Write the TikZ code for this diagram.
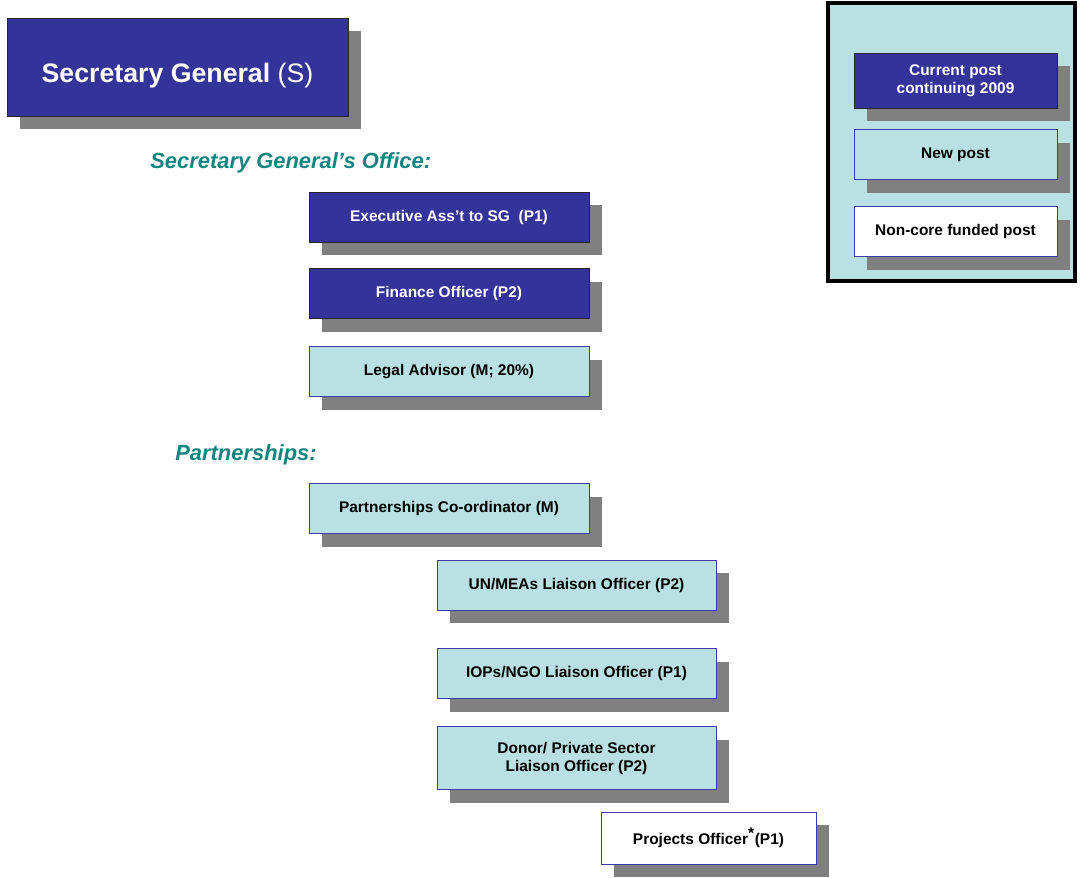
\documentclass[tikz,border=0pt]{standalone}
\usepackage{fontspec}
\setmainfont{Liberation Sans}
\usepackage{xcolor}
\usetikzlibrary{positioning,shadows}
\definecolor{postblue}{RGB}{51,51,153}
\definecolor{postcyan}{RGB}{185,224,227}
\definecolor{postedge}{RGB}{60,60,170}
\definecolor{shadowgray}{RGB}{128,128,128}
\definecolor{headteal}{RGB}{18,133,127}
\tikzset{
    postbox/.style={
        rectangle,
        align=center,
        font=\fontsize{11}{13}\selectfont\bfseries,
        inner sep=2pt,
        minimum width=7cm,
        minimum height=1.25cm,
        line width=0.6pt,
        general shadow={fill=shadowgray, shadow xshift=0.325cm, shadow yshift=-0.325cm}
    },
    currentpost/.style={
        postbox,
        draw=black!85,
        fill=postblue,
        text=white
    },
    newpost/.style={
        postbox,
        draw=postedge,
        fill=postcyan,
        text=black
    },
    noncorepost/.style={
        postbox,
        draw=postedge,
        fill=white,
        text=black
    },
    heading/.style={
        anchor=west,
        inner sep=0pt,
        text=headteal,
        font=\fontsize{15.6}{18}\selectfont\bfseries\itshape
    }
}
\begin{document}
\begin{tikzpicture}
    \useasboundingbox (0,0) rectangle (27,-21.925);

    % legend
    \draw[line width=0.1cm, fill=postcyan] (20.7,-0.075) rectangle (26.875,-7.025);
    \node[currentpost, minimum width=5.075cm, minimum height=1.375cm] (keycur) at (23.8875,-2.0125) {Current post\\continuing 2009};
    \node[newpost, minimum width=5.075cm, below=0.525cm of keycur] (keynew) {New post};
    \node[noncorepost, minimum width=5.075cm, below=0.65cm of keynew] (keynon) {Non-core funded post};

    % head of office
    \node[currentpost, minimum width=8.525cm, minimum height=2.45cm,
          font=\fontsize{19}{22}\selectfont] (sg) at (4.4375,-1.675) {\raisebox{-4pt}[\height][0pt]{\textbf{Secretary General} (S)}};

    % secretary general's office
    \node[heading] (sgoffice) at (3.75,-4.075) {Secretary General’s Office:};
    \node[currentpost] (exec) at (11.225,-5.425) {Executive Ass’t to SG\ \ (P1)};
    \node[currentpost, below=0.65cm of exec] (finance) {Finance Officer (P2)};
    \node[newpost, below=0.675cm of finance] (legal) {Legal Advisor (M; 20\%)};

    % partnerships
    \node[heading] (partner) at (4.375,-11.375) {Partnerships:};
    \node[newpost] (pcoord) at (11.225,-12.7125) {Partnerships Co-ordinator (M)};
    \node[newpost, minimum width=6.975cm] (unmea) at (14.4125,-14.625) {UN/MEAs Liaison Officer (P2)};
    \node[newpost, minimum width=6.975cm, below=0.95cm of unmea] (iopngo) {IOPs/NGO Liaison Officer (P1)};
    \node[newpost, minimum width=6.975cm, minimum height=1.575cm, below=0.675cm of iopngo] (donor) {Donor/ Private Sector\\Liaison Officer (P2)};
    \node[noncorepost, minimum width=5.375cm, minimum height=1.3cm] (projects) at (17.7125,-20.95)
        {\textbf{Projects Officer}$^{\textbf{*}}$\textbf{(P1)}};
\end{tikzpicture}
\end{document}
